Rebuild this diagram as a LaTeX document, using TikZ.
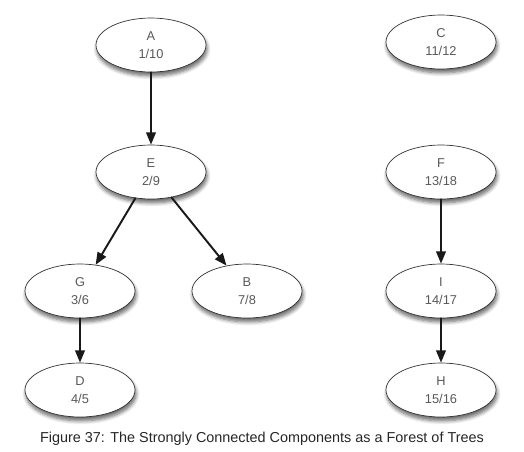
\documentclass[tikz,border=0pt]{standalone}
\usepackage{fontspec}
\setmainfont{Liberation Sans}
\usetikzlibrary{shapes.geometric,shadows.blur,arrows.meta}
\begin{document}
\begin{tikzpicture}[line join=round, line cap=round, >={Triangle[length=7pt,width=5.5pt]},
	vert/.style={ellipse, draw=black!80, fill=white, minimum width=2.2cm, minimum height=1.08cm, inner sep=0pt,
		align=center, font=\fontsize{7.3}{10}\selectfont, text=black!65,
		blur shadow={shadow xshift=0.6pt, shadow yshift=-2.2pt, shadow blur steps=6, shadow opacity=60}},
	edge/.style={->, line width=1.1pt, black!90}]
	\useasboundingbox (0,0) rectangle (10.48,-9.02);
	\node[vert] (A) at (3.02,-0.90){A\\1/10};
	\node[vert] (C) at (8.82,-0.84){C\\11/12};
	\node[vert] (E) at (3.02,-3.44){E\\2/9};
	\node[vert] (F) at (8.82,-3.44){F\\13/18};
	\node[vert] (G) at (1.60,-5.82){G\\3/6};
	\node[vert] (B) at (4.94,-5.82){B\\7/8};
	\node[vert] (I) at (8.82,-5.82){I\\14/17};
	\node[vert] (D) at (1.60,-7.80){D\\4/5};
	\node[vert] (H) at (8.82,-7.80){H\\15/16};
	\draw[edge] (A) -- (E);
	\draw[edge] (E) -- (G);
	\draw[edge] (E) -- (B);
	\draw[edge] (G) -- (D);
	\draw[edge] (F) -- (I);
	\draw[edge] (I) -- (H);
	\node[font=\fontsize{8.2}{10}\selectfont, text=black!85] (cap) at (5.24,-8.78){Figure 37: The Strongly Connected Components as a Forest of Trees};
\end{tikzpicture}
\end{document}
